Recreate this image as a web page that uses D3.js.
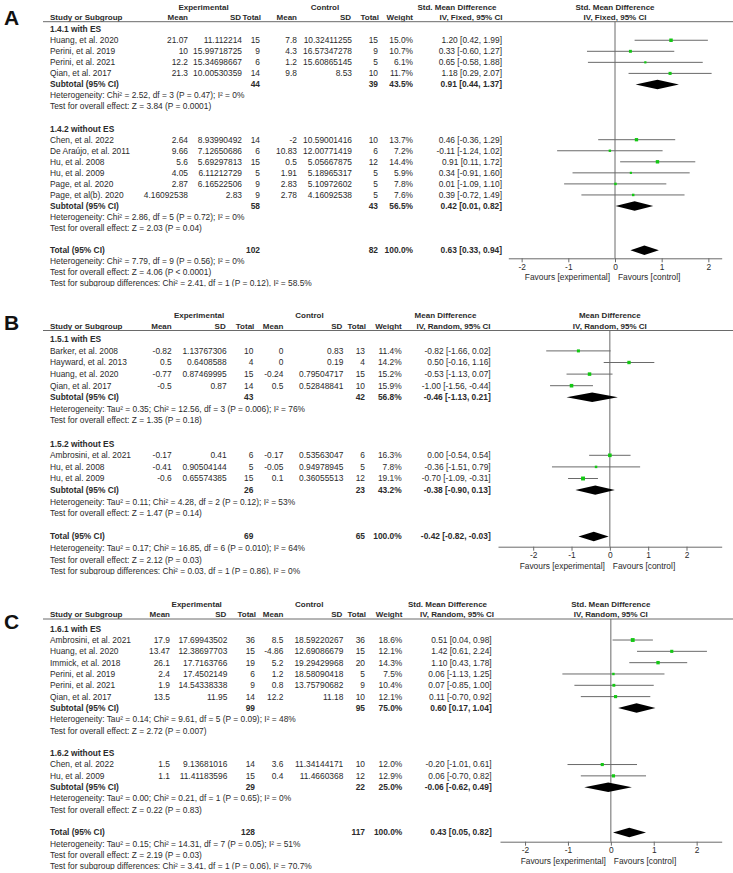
<!DOCTYPE html>
<html>
<head>
<meta charset="utf-8">
<script src="https://cdn.jsdelivr.net/npm/d3@7"></script>
<style>
body { margin: 0; background: #fff; }
svg { display: block; }
</style>
</head>
<body>
<div id="chart"></div>
<script>
// Three forest plots (A, B, C) drawn as RevMan-style tables with a plot column

// ---- Panel A data: Std. Mean Difference, IV fixed ----
var aGroups = ["1.4.1 with ES", "1.4.2 without ES"];
var aStudies = ["Huang, et al. 2020", "Perini, et al. 2019", "Perini, et al. 2021", "Qian, et al. 2017",
                "Chen, et al. 2022", "De Araújo, et al. 2011", "Hu, et al. 2008", "Hu, et al. 2009",
                "Page, et al. 2020", "Page, et al(b). 2020"];
var aGroupOf = [0, 0, 0, 0, 1, 1, 1, 1, 1, 1];
var aExpMean = ["21.07", "10", "12.2", "21.3", "2.64", "9.66", "5.6", "4.05", "2.87", "4.16092538"];
var aExpSD = ["11.112214", "15.99718725", "15.34698667", "10.00530359", "8.93990492", "7.12650686",
              "5.69297813", "6.11212729", "6.16522506", "2.83"];
var aExpN = [15, 9, 6, 14, 14, 6, 15, 5, 9, 9];
var aCtlMean = ["7.8", "4.3", "1.2", "9.8", "-2", "10.83", "0.5", "1.91", "2.83", "2.78"];
var aCtlSD = ["10.32411255", "16.57347278", "15.60865145", "8.53", "10.59001416", "12.00771419",
              "5.05667875", "5.18965317", "5.10972602", "4.16092538"];
var aCtlN = [15, 9, 5, 10, 10, 6, 12, 5, 5, 5];
var aWeight = [15.0, 10.7, 6.1, 11.7, 13.7, 7.2, 14.4, 5.9, 7.8, 7.6];
var aEst = [1.20, 0.33, 0.65, 1.18, 0.46, -0.11, 0.91, 0.34, 0.01, 0.39];
var aLow = [0.42, -0.60, -0.58, 0.29, -0.36, -1.24, 0.11, -0.91, -1.09, -0.72];
var aHigh = [1.99, 1.27, 1.88, 2.07, 1.29, 1.02, 1.72, 1.60, 1.10, 1.49];
var aSubExpN = [44, 58];
var aSubCtlN = [39, 43];
var aSubWeight = [43.5, 56.5];
var aSubEst = [0.91, 0.42];
var aSubLow = [0.44, 0.01];
var aSubHigh = [1.37, 0.82];
var aSubHet = ["Heterogeneity: Chi² = 2.52, df = 3 (P = 0.47); I² = 0%",
               "Heterogeneity: Chi² = 2.86, df = 5 (P = 0.72); I² = 0%"];
var aSubZ = ["Test for overall effect: Z = 3.84 (P = 0.0001)",
             "Test for overall effect: Z = 2.03 (P = 0.04)"];
var aTotN = [102, 82];
var aTotEffect = [0.63, 0.33, 0.94];
var aTotNotes = ["Heterogeneity: Chi² = 7.79, df = 9 (P = 0.56); I² = 0%",
                 "Test for overall effect: Z = 4.06 (P < 0.0001)",
                 "Test for subgroup differences: Chi² = 2.41, df = 1 (P = 0.12), I² = 58.5%"];

// ---- Panel B data: Mean Difference, IV random ----
var bGroups = ["1.5.1 with ES", "1.5.2 without ES"];
var bStudies = ["Barker, et al. 2008", "Hayward, et al. 2013", "Huang, et al. 2020", "Qian, et al. 2017",
                "Ambrosini, et al. 2021", "Hu, et al. 2008", "Hu, et al. 2009"];
var bGroupOf = [0, 0, 0, 0, 1, 1, 1];
var bExpMean = ["-0.82", "0.5", "-0.77", "-0.5", "-0.17", "-0.41", "-0.6"];
var bExpSD = ["1.13767306", "0.6408588", "0.87469995", "0.87", "0.41", "0.90504144", "0.65574385"];
var bExpN = [10, 4, 15, 14, 6, 5, 15];
var bCtlMean = ["0", "0", "-0.24", "0.5", "-0.17", "-0.05", "0.1"];
var bCtlSD = ["0.83", "0.19", "0.79504717", "0.52848841", "0.53563047", "0.94978945", "0.36055513"];
var bCtlN = [13, 4, 15, 10, 6, 5, 12];
var bWeight = [11.4, 14.2, 15.2, 15.9, 16.3, 7.8, 19.1];
var bEst = [-0.82, 0.50, -0.53, -1.00, 0.00, -0.36, -0.70];
var bLow = [-1.66, -0.16, -1.13, -1.56, -0.54, -1.51, -1.09];
var bHigh = [0.02, 1.16, 0.07, -0.44, 0.54, 0.79, -0.31];
var bSubExpN = [43, 26];
var bSubCtlN = [42, 23];
var bSubWeight = [56.8, 43.2];
var bSubEst = [-0.46, -0.38];
var bSubLow = [-1.13, -0.90];
var bSubHigh = [0.21, 0.13];
var bSubHet = ["Heterogeneity: Tau² = 0.35; Chi² = 12.56, df = 3 (P = 0.006); I² = 76%",
               "Heterogeneity: Tau² = 0.11; Chi² = 4.28, df = 2 (P = 0.12); I² = 53%"];
var bSubZ = ["Test for overall effect: Z = 1.35 (P = 0.18)",
             "Test for overall effect: Z = 1.47 (P = 0.14)"];
var bTotN = [69, 65];
var bTotEffect = [-0.42, -0.82, -0.03];
var bTotNotes = ["Heterogeneity: Tau² = 0.17; Chi² = 16.85, df = 6 (P = 0.010); I² = 64%",
                 "Test for overall effect: Z = 2.12 (P = 0.03)",
                 "Test for subgroup differences: Chi² = 0.03, df = 1 (P = 0.86), I² = 0%"];

// ---- Panel C data: Std. Mean Difference, IV random ----
var cGroups = ["1.6.1 with ES", "1.6.2 without ES"];
var cStudies = ["Ambrosini, et al. 2021", "Huang, et al. 2020", "Immick, et al. 2018", "Perini, et al. 2019",
                "Perini, et al. 2021", "Qian, et al. 2017", "Chen, et al. 2022", "Hu, et al. 2009"];
var cGroupOf = [0, 0, 0, 0, 0, 0, 1, 1];
var cExpMean = ["17.9", "13.47", "26.1", "2.4", "1.9", "13.5", "1.5", "1.1"];
var cExpSD = ["17.69943502", "12.38697703", "17.7163766", "17.4502149", "14.54338338", "11.95",
              "9.13681016", "11.41183596"];
var cExpN = [36, 15, 19, 6, 9, 14, 14, 15];
var cCtlMean = ["8.5", "-4.86", "5.2", "1.2", "0.8", "12.2", "3.6", "0.4"];
var cCtlSD = ["18.59220267", "12.69086679", "19.29429968", "18.58090418", "13.75790682", "11.18",
              "11.34144171", "11.4660368"];
var cCtlN = [36, 15, 20, 5, 9, 10, 10, 12];
var cWeight = [18.6, 12.1, 14.3, 7.5, 10.4, 12.1, 12.0, 12.9];
var cEst = [0.51, 1.42, 1.10, 0.06, 0.07, 0.11, -0.20, 0.06];
var cLow = [0.04, 0.61, 0.43, -1.13, -0.85, -0.70, -1.01, -0.70];
var cHigh = [0.98, 2.24, 1.78, 1.25, 1.00, 0.92, 0.61, 0.82];
var cSubExpN = [99, 29];
var cSubCtlN = [95, 22];
var cSubWeight = [75.0, 25.0];
var cSubEst = [0.60, -0.06];
var cSubLow = [0.17, -0.62];
var cSubHigh = [1.04, 0.49];
var cSubHet = ["Heterogeneity: Tau² = 0.14; Chi² = 9.61, df = 5 (P = 0.09); I² = 48%",
               "Heterogeneity: Tau² = 0.00; Chi² = 0.21, df = 1 (P = 0.65); I² = 0%"];
var cSubZ = ["Test for overall effect: Z = 2.72 (P = 0.007)",
             "Test for overall effect: Z = 0.22 (P = 0.83)"];
var cTotN = [128, 117];
var cTotEffect = [0.43, 0.05, 0.82];
var cTotNotes = ["Heterogeneity: Tau² = 0.15; Chi² = 14.31, df = 7 (P = 0.05); I² = 51%",
                 "Test for overall effect: Z = 2.19 (P = 0.03)",
                 "Test for subgroup differences: Chi² = 3.41, df = 1 (P = 0.06), I² = 70.7%"];

var axisTicks = [-2, -1, 0, 1, 2];

// Layout and styles
var W = 733, H = 873;
var FONT = "'Liberation Sans', Arial, Helvetica, sans-serif";
var FS = 8.4;      // table text
var FS_HDR = 8.0;  // bold column headers
var TEXT = "#2b2b2b";
var LINE = "#6a6a6a";
var GREEN = "#14c814";
var plotRight = 721.7;

var panels = [
    {letter: "A", letterY: 25, clipTop: 0, ruleY: 21.7, row0: 29.2, step: 11.05,
     axisY: 258.3, axisLeft: 508.3, ext: 2.286,
     col: {expMean: 188, expSD: 242, expN: 260, ctlMean: 297, ctlSD: 352, ctlN: 378,
           weight: 413, ci: 502, expHdr: 203.5, ctlHdr: 325, eff1: 457, eff2: 471},
     effName: "Std. Mean Difference", method: "IV, Fixed, 95% CI",
     groups: aGroups, studies: aStudies, groupOf: aGroupOf, expMean: aExpMean, expSD: aExpSD, expN: aExpN,
     ctlMean: aCtlMean, ctlSD: aCtlSD, ctlN: aCtlN, weight: aWeight, est: aEst, low: aLow, high: aHigh,
     subExpN: aSubExpN, subCtlN: aSubCtlN, subWeight: aSubWeight, subEst: aSubEst, subLow: aSubLow,
     subHigh: aSubHigh, subHet: aSubHet, subZ: aSubZ, totN: aTotN, tot: aTotEffect, totNotes: aTotNotes},
    {letter: "B", letterY: 330, clipTop: 287.5, ruleY: 330.5, row0: 339.3, step: 11.6,
     axisY: 546.7, axisLeft: 498, ext: 2.918,
     col: {expMean: 171.7, expSD: 226.7, expN: 253.3, ctlMean: 283.3, ctlSD: 343.3, ctlN: 365,
           weight: 401.7, ci: 490.7, expHdr: 199, ctlHdr: 309.5, eff1: 445.5, eff2: 453.5},
     effName: "Mean Difference", method: "IV, Random, 95% CI",
     groups: bGroups, studies: bStudies, groupOf: bGroupOf, expMean: bExpMean, expSD: bExpSD, expN: bExpN,
     ctlMean: bCtlMean, ctlSD: bCtlSD, ctlN: bCtlN, weight: bWeight, est: bEst, low: bLow, high: bHigh,
     subExpN: bSubExpN, subCtlN: bSubCtlN, subWeight: bSubWeight, subEst: bSubEst, subLow: bSubLow,
     subHigh: bSubHigh, subHet: bSubHet, subZ: bSubZ, totN: bTotN, tot: bTotEffect, totNotes: bTotNotes},
    {letter: "C", letterY: 629, clipTop: 578, ruleY: 619, row0: 628.7, step: 11.32,
     axisY: 841.7, axisLeft: 500, ext: 2.584,
     col: {expMean: 170, expSD: 227.3, expN: 255, ctlMean: 283.3, ctlSD: 343.3, ctlN: 365,
           weight: 402.3, ci: 491.7, expHdr: 196.7, ctlHdr: 309.2, eff1: 447.5, eff2: 457},
     effName: "Std. Mean Difference", method: "IV, Random, 95% CI",
     groups: cGroups, studies: cStudies, groupOf: cGroupOf, expMean: cExpMean, expSD: cExpSD, expN: cExpN,
     ctlMean: cCtlMean, ctlSD: cCtlSD, ctlN: cCtlN, weight: cWeight, est: cEst, low: cLow, high: cHigh,
     subExpN: cSubExpN, subCtlN: cSubCtlN, subWeight: cSubWeight, subEst: cSubEst, subLow: cSubLow,
     subHigh: cSubHigh, subHet: cSubHet, subZ: cSubZ, totN: cTotN, tot: cTotEffect, totNotes: cTotNotes}
];

var svg = d3.select("#chart").append("svg")
    .attr("width", W)
    .attr("height", H);
var defs = svg.append("defs");

var fmt2 = d3.format(".2f");
var fmtW = function (w) { return d3.format(".1f")(w) + "%"; };
function ciText(e, l, h) {
    return (fmt2(e) + " [" + fmt2(l) + ", " + fmt2(h) + "]").replace(/\u2212/g, "-");
}

function txt(sel, x, y, s, anchor, bold, size) {
    return sel.append("text")
        .attr("x", x)
        .attr("y", y)
        .attr("dy", "0.35em")
        .attr("text-anchor", anchor || "start")
        .attr("font-family", FONT)
        .attr("font-size", size || FS)
        .attr("font-weight", bold ? "bold" : "normal")
        .attr("fill", TEXT)
        .text(s);
}
function hdr(sel, x, y, s, anchor) {
    return txt(sel, x, y, s, anchor, true, FS_HDR);
}

function drawPanel(p) {
    // build the list of table rows
    var rows = [];
    p.groups.forEach(function (name, gi) {
        rows.push({kind: "group", text: name});
        p.studies.forEach(function (s, i) {
            if (p.groupOf[i] === gi) rows.push({kind: "study", i: i});
        });
        rows.push({kind: "sub", gi: gi});
        rows.push({kind: "note", text: p.subHet[gi]});
        rows.push({kind: "note", text: p.subZ[gi]});
        rows.push({kind: "blank"});
    });
    rows.push({kind: "total"});
    p.totNotes.forEach(function (t) { rows.push({kind: "note", text: t}); });

    var y = d3.scaleLinear().domain([0, 1]).range([p.row0, p.row0 + p.step]);
    var x = d3.scaleLinear().domain([-p.ext, p.ext]).range([p.axisLeft, plotRight]);
    var size = d3.scaleSqrt().domain([0, 20]).range([0, 4]);
    var c = p.col;
    var zero = x(0);

    // bottom of the panel is cut through the last line, like the source image
    var clipBottom = y(rows.length - 1) + 3.2;
    defs.append("clipPath").attr("id", "clip" + p.letter)
        .append("rect")
        .attr("x", 0).attr("y", p.clipTop)
        .attr("width", W).attr("height", clipBottom - p.clipTop);

    var g = svg.append("g").attr("clip-path", "url(#clip" + p.letter + ")");

    // panel letter
    g.append("text")
        .attr("x", 4)
        .attr("y", p.letterY)
        .attr("font-family", FONT)
        .attr("font-size", 21)
        .attr("font-weight", "bold")
        .attr("fill", "#111")
        .text(p.letter);

    // headers
    var h1 = p.ruleY - 15, h2 = p.ruleY - 4.6;
    hdr(g, c.expHdr, h1, "Experimental", "middle");
    hdr(g, c.ctlHdr, h1, "Control", "middle");
    hdr(g, c.eff1, h1, p.effName, "middle");
    hdr(g, zero, h1, p.effName, "middle");
    hdr(g, 50, h2, "Study or Subgroup", "start");
    hdr(g, c.expMean, h2, "Mean", "end");
    hdr(g, c.expSD - 1, h2, "SD", "end");
    hdr(g, c.expN + 1, h2, "Total", "end");
    hdr(g, c.ctlMean, h2, "Mean", "end");
    hdr(g, c.ctlSD - 1, h2, "SD", "end");
    hdr(g, c.ctlN + 1, h2, "Total", "end");
    hdr(g, c.weight, h2, "Weight", "end");
    hdr(g, c.eff2, h2, p.method, "middle");
    hdr(g, zero, h2, p.method, "middle");

    g.append("line")
        .attr("x1", 43).attr("x2", W)
        .attr("y1", p.ruleY).attr("y2", p.ruleY)
        .attr("stroke", LINE).attr("stroke-width", 1);

    // line of no effect
    g.append("line")
        .attr("x1", zero).attr("x2", zero)
        .attr("y1", p.ruleY).attr("y2", p.axisY)
        .attr("stroke", LINE).attr("stroke-width", 1);

    function diamond(yy, e, l, h) {
        var hh = 4.7;
        g.append("path")
            .attr("d", "M" + x(l) + "," + yy + "L" + x(e) + "," + (yy - hh) +
                       "L" + x(h) + "," + yy + "L" + x(e) + "," + (yy + hh) + "Z")
            .attr("fill", "#000");
    }

    rows.forEach(function (r, k) {
        var yy = y(k);
        if (r.kind === "group") {
            txt(g, 50, yy, r.text, "start", true);
        } else if (r.kind === "note") {
            txt(g, 50, yy, r.text, "start", false);
        } else if (r.kind === "study") {
            var i = r.i;
            txt(g, 50, yy, p.studies[i]);
            txt(g, c.expMean, yy, p.expMean[i], "end");
            txt(g, c.expSD, yy, p.expSD[i], "end");
            txt(g, c.expN, yy, p.expN[i], "end");
            txt(g, c.ctlMean, yy, p.ctlMean[i], "end");
            txt(g, c.ctlSD, yy, p.ctlSD[i], "end");
            txt(g, c.ctlN, yy, p.ctlN[i], "end");
            txt(g, c.weight, yy, fmtW(p.weight[i]), "end");
            txt(g, c.ci, yy, ciText(p.est[i], p.low[i], p.high[i]), "end");
            g.append("line")
                .attr("x1", x(p.low[i])).attr("x2", x(p.high[i]))
                .attr("y1", yy).attr("y2", yy)
                .attr("stroke", LINE).attr("stroke-width", 1);
            var s = size(p.weight[i]);
            g.append("rect")
                .attr("x", x(p.est[i]) - s / 2)
                .attr("y", yy - s / 2)
                .attr("width", s).attr("height", s)
                .attr("fill", GREEN);
        } else if (r.kind === "sub") {
            var gi = r.gi;
            txt(g, 50, yy, "Subtotal (95% CI)", "start", true);
            txt(g, c.expN, yy, p.subExpN[gi], "end", true);
            txt(g, c.ctlN, yy, p.subCtlN[gi], "end", true);
            txt(g, c.weight, yy, fmtW(p.subWeight[gi]), "end", true);
            txt(g, c.ci, yy, ciText(p.subEst[gi], p.subLow[gi], p.subHigh[gi]), "end", true);
            diamond(yy, p.subEst[gi], p.subLow[gi], p.subHigh[gi]);
        } else if (r.kind === "total") {
            txt(g, 50, yy, "Total (95% CI)", "start", true);
            txt(g, c.expN, yy, p.totN[0], "end", true);
            txt(g, c.ctlN, yy, p.totN[1], "end", true);
            txt(g, c.weight, yy, fmtW(100), "end", true);
            txt(g, c.ci, yy, ciText(p.tot[0], p.tot[1], p.tot[2]), "end", true);
            diamond(yy, p.tot[0], p.tot[1], p.tot[2]);
        }
    });

    // x axis
    var ax = g.append("g")
        .attr("transform", "translate(0," + p.axisY + ")")
        .call(d3.axisBottom(x)
            .tickValues(axisTicks)
            .tickFormat(function (d) { return String(d); })
            .tickSize(4)
            .tickSizeOuter(0)
            .tickPadding(1.5));
    ax.attr("font-family", FONT).attr("font-size", FS);
    ax.select(".domain").attr("stroke", LINE);
    ax.selectAll(".tick line").attr("stroke", LINE);
    ax.selectAll(".tick text").attr("fill", TEXT);

    txt(g, zero - 5, p.axisY + 19, "Favours [experimental]", "end");
    txt(g, zero + 3, p.axisY + 19, "Favours [control]", "start");
}

panels.forEach(drawPanel);
</script>
</body>
</html>
